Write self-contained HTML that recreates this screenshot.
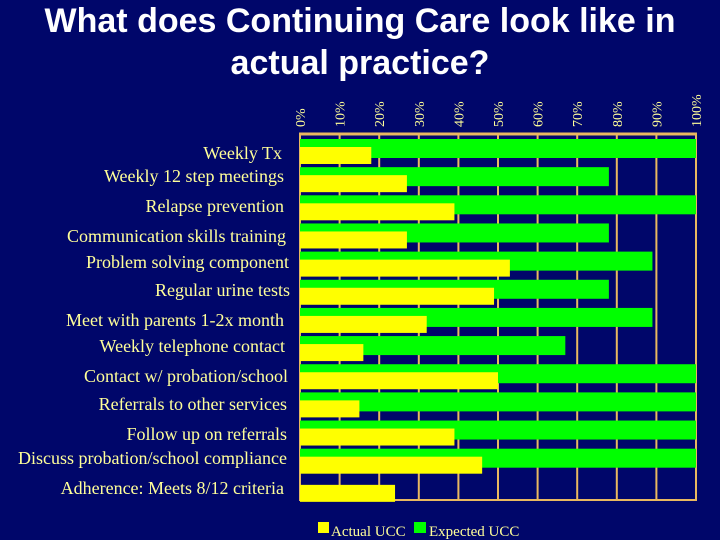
<!DOCTYPE html>
<html><head><meta charset="utf-8"><style>
body{margin:0;background:#00066a;}
#wrap{position:relative;width:720px;height:540px;background:#00066a;overflow:hidden;}
h1{position:absolute;left:0;top:0px;width:720px;margin:0;text-align:center;color:#fff;font:bold 34px/42px "Liberation Sans",sans-serif;}
svg text{font-family:"Liberation Serif",serif;}
</style></head><body>
<div id="wrap">
<h1>What does Continuing Care look like in<br>actual practice?</h1>
<svg id="chart" width="720" height="540" style="position:absolute;left:0;top:0"></svg>
</div>
<script>
const categories=["Weekly Tx","Weekly 12 step meetings","Relapse prevention","Communication skills training","Problem solving component","Regular urine tests","Meet with parents 1-2x month","Weekly telephone contact","Contact w/ probation/school","Referrals to other services","Follow up on referrals","Discuss probation/school compliance","Adherence: Meets 8/12 criteria"];
const expectedValues=[100,78,100,78,89,78,89,67,100,100,100,100,0];
const actualValues=[18,27,39,27,53,49,32,16,50,15,39,46,24];
const tickLabels=["0%","10%","20%","30%","40%","50%","60%","70%","80%","90%","100%"];
const tickValues=[0,10,20,30,40,50,60,70,80,90,100];
const legendLabels=["Actual UCC","Expected UCC"];
const labelBaselines=[159,182,212,242,268,296,326,352,382,410,440,464,494];
const labelRight=[282,284,284,286,289,290,284,285,288,287,287,287,284];

const NS="http://www.w3.org/2000/svg";
const svg=document.getElementById('chart');
const X0=300,X1=696,Y0=134,Y1=500;
const x=v=>X0+(X1-X0)*v/100;
const band=(Y1-Y0)/categories.length;
const y=i=>Y0+band*i;
function mk(tag,attrs,parent){const e=document.createElementNS(NS,tag);for(const k in attrs)e.setAttribute(k,attrs[k]);(parent||svg).appendChild(e);return e;}
const grid="#e8b860";
tickValues.forEach((t,i)=>{
  const l=mk('line',{x1:x(t),x2:x(t),y1:Y0,y2:Y1,stroke:grid,'stroke-width':2});
  
  
  const tx=mk('text',{x:0,y:0,fill:'#ffff99','font-size':14,transform:`translate(${x(t)+5},${Y0-7}) rotate(-90)`});
  tx.textContent=tickLabels[i];
  
  
});
const ax=mk('line',{x1:X0-1,x2:X1+1,y1:Y0,y2:Y0,stroke:grid,'stroke-width':3});


const bx=mk('line',{x1:X0-1,x2:X1+1,y1:Y1,y2:Y1,stroke:grid,'stroke-width':2});


categories.forEach((c,i)=>{
  const b=y(i);
  if(expectedValues[i]>0){
    const g=mk('rect',{x:X0,y:b+5,width:x(expectedValues[i])-X0,height:19,fill:'#00ff00'});
    
    
  }
  const a=mk('rect',{x:X0,y:b+13,width:x(actualValues[i])-X0,height:17,fill:'#ffff00'});
  
  
  const lt=mk('text',{x:labelRight[i],y:labelBaselines[i],fill:'#ffff99','font-size':18,'text-anchor':'end'});
  lt.textContent=c;
  
  
});
const ls=mk('rect',{x:318,y:522,width:11,height:11,fill:'#ffff00'});


const lt1=mk('text',{x:331,y:536,fill:'#ffff99','font-size':15});
lt1.textContent=legendLabels[0];


const ls2=mk('rect',{x:414,y:522,width:12,height:11,fill:'#00ff00'});


const lt2=mk('text',{x:429,y:536,fill:'#ffff99','font-size':15});
lt2.textContent=legendLabels[1];


</script>
</body></html>
